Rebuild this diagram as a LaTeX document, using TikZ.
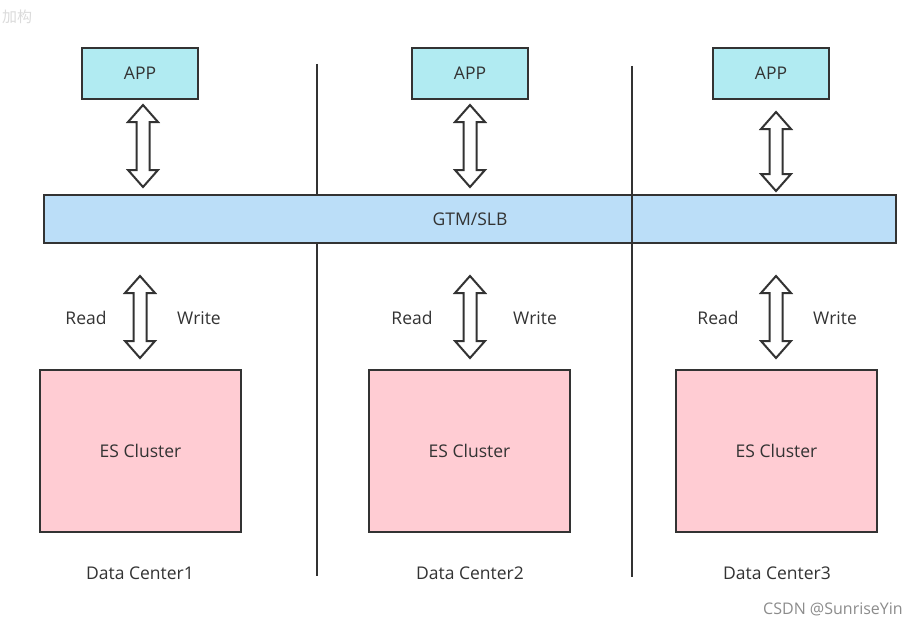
\documentclass[tikz,border=0pt]{standalone}
\usepackage{fontspec}
\setmainfont{Open Sans}
\newfontfamily\cjkfont{Noto Sans CJK SC}
\usetikzlibrary{calc}
\definecolor{edge}{HTML}{333333}
\definecolor{txt}{HTML}{333333}
\definecolor{appfill}{HTML}{B1EBF2}
\definecolor{gtmfill}{HTML}{BBDEF8}
\definecolor{esfill}{HTML}{FFCCD3}
\newcommand\hollowarrow[2]{%
  \draw[arr] let \p1=(#1), \p2=(#2) in
    (\x1,\y1) -- (\x1+15pt,\y1-17pt) -- (\x1+6.5pt,\y1-17pt) -- (\x1+6.5pt,\y2+17pt)
    -- (\x1+15pt,\y2+17pt) -- (\x1,\y2) -- (\x1-15pt,\y2+17pt) -- (\x1-6.5pt,\y2+17pt)
    -- (\x1-6.5pt,\y1-17pt) -- (\x1-15pt,\y1-17pt) -- cycle;}
\begin{document}
\begin{tikzpicture}[x=1pt,y=-1pt,
  box/.style={draw=edge,line width=2pt,inner sep=0pt,text=txt,font=\fontsize{17.5}{19}\selectfont},
  appbox/.style={box,fill=appfill,minimum width=116pt,minimum height=51pt},
  esbox/.style={box,fill=esfill,minimum width=201pt,minimum height=162pt},
  arr/.style={draw=edge,line width=2pt,fill=white,line join=miter},
  divider/.style={draw=edge,line width=2pt},
  lbl/.style={text=txt,font=\fontsize{17.5}{19}\selectfont,inner sep=0pt}]
\useasboundingbox[fill=white] (0,0) rectangle (915,626);
\node[text=black!14,font=\cjkfont\fontsize{15}{16}\selectfont,anchor=west,inner sep=0pt] (wm) at (2,17) {加构};
% dividers (first one is hidden under the GTM box)
\coordinate (d1t) at (317,64); \coordinate (d1b) at (317,576);
\coordinate (d2t) at (632,66); \coordinate (d2b) at (632,577);
\draw[divider] (d1t) -- (d1b);
% APP boxes
\node[appbox] (app1) at (140,73.5) {APP};
\node[appbox] (app2) at (470,73.5) {APP};
\node[appbox] (app3) at (771,73.5) {APP};
% GTM
\node[box,fill=gtmfill,minimum width=852pt,minimum height=48pt] (gtm) at (470,219) {GTM/SLB};
\draw[divider] (d2t) -- (d2b);
% ES clusters
\node[esbox] (es1) at (140.5,451) {ES Cluster};
\node[esbox] (es2) at (469.5,451) {ES Cluster};
\node[esbox] (es3) at (776.5,451) {ES Cluster};
% upper arrows
\coordinate (u1t) at (143,105); \coordinate (u1b) at (143,187);
\coordinate (u2t) at (470,105); \coordinate (u2b) at (470,187);
\coordinate (u3t) at (776,112); \coordinate (u3b) at (776,191);
\hollowarrow{u1t}{u1b}
\hollowarrow{u2t}{u2b}
\hollowarrow{u3t}{u3b}
% lower arrows
\coordinate (l1t) at (140,276); \coordinate (l1b) at (140,358);
\coordinate (l2t) at (470,276); \coordinate (l2b) at (470,358);
\coordinate (l3t) at (776,276); \coordinate (l3b) at (776,358);
\hollowarrow{l1t}{l1b}
\hollowarrow{l2t}{l2b}
\hollowarrow{l3t}{l3b}
% read / write labels
\node[lbl] (r1) at (86,318) {Read};
\node[lbl] (w1) at (199,318) {Write};
\node[lbl] (r2) at (412,318) {Read};
\node[lbl] (w2) at (535,318) {Write};
\node[lbl] (r3) at (718,318) {Read};
\node[lbl] (w3) at (835,318) {Write};
% data center labels
\node[lbl] (dc1) at (140,573) {Data Center1};
\node[lbl] (dc2) at (470,573) {Data Center2};
\node[lbl] (dc3) at (777,573) {Data Center3};
% watermark
\node[text=black!45,font=\fontsize{16}{17}\selectfont,inner sep=0pt] (csdn) at (833,609) {CSDN @SunriseYin};
\end{tikzpicture}
\end{document}
